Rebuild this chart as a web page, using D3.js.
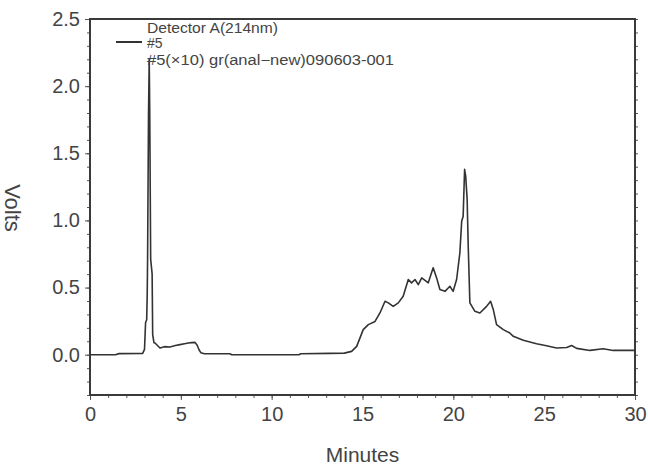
<!DOCTYPE html>
<html>
<head>
<meta charset="utf-8">
<script src="https://cdn.jsdelivr.net/npm/d3@7"></script>
<style>
  body { margin: 0; background: #fff; }
  text { font-family: "Liberation Sans", Arial, sans-serif; fill: #444; }
</style>
</head>
<body>
<div id="chart"></div>
<script>
// chromatogram trace, time (min) and signal (V)
const times = [0, 1.4, 1.6, 2.9, 3.0, 3.06, 3.12, 3.15, 3.17, 3.22, 3.26, 3.29, 3.34, 3.42, 3.45, 3.52, 3.58,
  3.85, 4.1, 4.4, 4.7, 4.95, 5.2, 5.41, 5.6, 5.78, 5.9, 6.0, 6.1, 6.3, 7.7, 7.8, 11.5, 11.6, 13.2, 14.0, 14.4,
  14.68, 15.04, 15.32, 15.69, 15.96, 16.24, 16.42, 16.69, 16.97, 17.24, 17.52, 17.70, 17.89, 18.07, 18.26,
  18.62, 18.89, 19.08, 19.26, 19.54, 19.81, 19.99, 20.18, 20.36, 20.46, 20.54, 20.62, 20.68, 20.76, 20.82,
  20.91, 21.19, 21.46, 21.83, 22.05, 22.20, 22.38, 22.75, 23.11, 23.30, 23.85, 24.58, 25.13, 25.68, 26.24,
  26.51, 26.79, 27.52, 28.25, 28.80, 30.0];
const volts = [0.0, 0.0, 0.008, 0.01, 0.04, 0.24, 0.26, 0.45, 0.71, 1.78, 2.2, 1.78, 0.71, 0.6, 0.15, 0.09, 0.087,
  0.05, 0.06, 0.057, 0.068, 0.075, 0.082, 0.087, 0.09, 0.092, 0.07, 0.037, 0.015, 0.007, 0.007, 0.0, 0.0, 0.007, 0.01, 0.012, 0.025,
  0.062, 0.187, 0.224, 0.248, 0.311, 0.398, 0.386, 0.36, 0.386, 0.435, 0.56, 0.535, 0.56, 0.522, 0.572,
  0.535, 0.647, 0.572, 0.485, 0.472, 0.51, 0.472, 0.56, 0.759, 0.995, 1.03, 1.38, 1.33, 1.157, 0.808,
  0.386, 0.323, 0.311, 0.36, 0.398, 0.336, 0.224, 0.187, 0.162, 0.137, 0.107, 0.082, 0.067, 0.05, 0.054,
  0.069, 0.047, 0.032, 0.045, 0.032, 0.032];

const xMajor = [0, 5, 10, 15, 20, 25, 30];
const yMajor = [0.0, 0.5, 1.0, 1.5, 2.0, 2.5];
const legendLines = ["Detector A(214nm)", "#5", "#5(\u00d710) gr(anal\u2212new)090603-001"];

const width = 648, height = 469;
const margin = { top: 19, right: 13, bottom: 74, left: 90 };
const plotW = width - margin.left - margin.right;
const plotH = height - margin.top - margin.bottom;

const svg = d3.select("#chart").append("svg")
  .attr("width", width)
  .attr("height", height);

const g = svg.append("g")
  .attr("transform", "translate(" + margin.left + "," + margin.top + ")");

const x = d3.scaleLinear().domain([0, 30]).range([0, plotW]);
const y = d3.scaleLinear().domain([-0.3, 2.5]).range([plotH, 0]);

svg.append("clipPath").attr("id", "plotClip")
  .append("rect").attr("width", plotW).attr("height", plotH);

// minor ticks
const xMinor = d3.range(0, 31, 1);
const yMinor = d3.range(-3, 26, 1).map(d => d / 10);

g.append("g")
  .attr("transform", "translate(0," + plotH + ")")
  .call(d3.axisBottom(x).tickValues(xMinor).tickSize(3).tickFormat(""))
  .call(a => a.select(".domain").remove());
g.append("g")
  .call(d3.axisLeft(y).tickValues(yMinor).tickSize(3).tickFormat(""))
  .call(a => a.select(".domain").remove());
g.append("g")
  .attr("transform", "translate(" + plotW + ",0)")
  .call(d3.axisRight(y).tickValues(yMinor).tickSize(3).tickFormat(""))
  .call(a => a.select(".domain").remove());

// labelled axes
const xAxis = g.append("g")
  .attr("transform", "translate(0," + plotH + ")")
  .call(d3.axisBottom(x).tickValues(xMajor).tickSize(5).tickPadding(7).tickFormat(d3.format("d")));
xAxis.select(".domain").remove();
xAxis.selectAll("text").style("font-size", "20px").attr("fill", "#444");

const yAxis = g.append("g")
  .call(d3.axisLeft(y).tickValues(yMajor).tickSize(5).tickPadding(5).tickFormat(d3.format(".1f")));
yAxis.select(".domain").remove();
yAxis.selectAll("text").style("font-size", "20px").attr("fill", "#444");

g.selectAll(".tick line").attr("stroke", "#555");

// frame
g.append("rect")
  .attr("width", plotW)
  .attr("height", plotH)
  .attr("fill", "none")
  .attr("stroke", "#3a3a3a")
  .attr("stroke-width", 2);

// trace
const data = times.map((t, i) => [t, volts[i]]);
g.append("path")
  .datum(data)
  .attr("clip-path", "url(#plotClip)")
  .attr("d", d3.line().x(d => x(d[0])).y(d => y(d[1])))
  .attr("fill", "none")
  .attr("stroke", "#333")
  .attr("stroke-width", 1.6)
  .attr("stroke-linejoin", "round");

// legend
g.append("line")
  .attr("x1", 26).attr("x2", 52)
  .attr("y1", 23).attr("y2", 23)
  .attr("stroke", "#333")
  .attr("stroke-width", 2);
const legendY = [14, 29, 46];
const legendW = [131, null, 247];
legendLines.forEach((s, i) => {
  const t = g.append("text")
    .attr("x", 57)
    .attr("y", legendY[i])
    .style("font-size", "14px")
    .text(s);
  if (legendW[i]) t.attr("textLength", legendW[i]).attr("lengthAdjust", "spacingAndGlyphs");
});

// axis titles
svg.append("text")
  .attr("x", margin.left + plotW / 2)
  .attr("y", 462)
  .attr("text-anchor", "middle")
  .style("font-size", "21px")
  .text("Minutes");

svg.append("text")
  .attr("transform", "translate(5," + 208 + ") rotate(90)")
  .attr("text-anchor", "middle")
  .style("font-size", "22px")
  .text("Volts");
</script>
</body>
</html>
